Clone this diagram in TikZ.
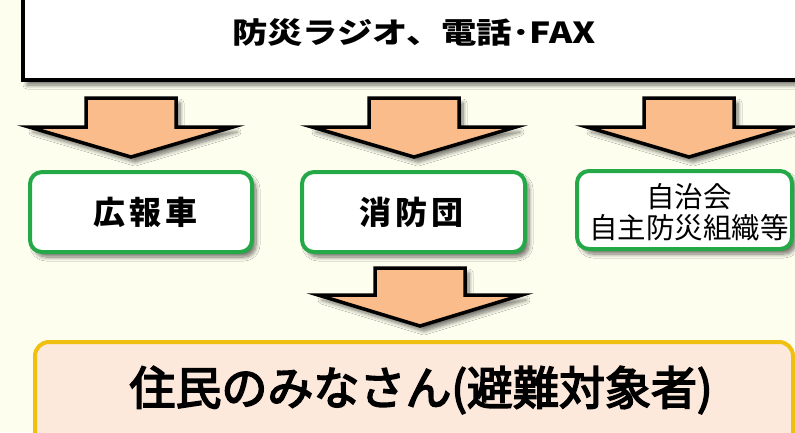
\documentclass[tikz,border=0pt]{standalone}
\usepackage{fontspec}
\newfontfamily\jp{Noto Sans CJK JP}
\newfontfamily\jpmed{Noto Sans CJK JP}[FakeBold=3.5]
\usetikzlibrary{shadows.blur}
\definecolor{bg}{HTML}{FEFEEF}
\definecolor{peach}{HTML}{F9BC8A}
\definecolor{grn}{HTML}{25A848}
\definecolor{ylw}{HTML}{F0C010}
\definecolor{pinkfill}{HTML}{FDE8DC}
\newcommand\blockarrow[4]{% center x, top y, head y, tip y
  \draw[arrowstyle] (#1-45,#2) -- (#1+45,#2) -- (#1+45,#3) -- (#1+102,#3)
    -- (#1,#4) -- (#1-102,#3) -- (#1-45,#3) -- cycle;}
\begin{document}
\begin{tikzpicture}[x=1pt,y=-1pt,
  softshadow/.style={blur shadow={shadow xshift=4pt,shadow yshift=-5pt,shadow blur steps=8,shadow blur radius=4pt,shadow opacity=55}},
  arrowstyle/.style={fill=peach,draw=black,line width=3.5pt,line join=miter,softshadow},
  topbox/.style={fill=white,draw=black,line width=4pt,softshadow},
  greenbox/.style={fill=white,draw=grn,line width=4pt,rounded corners=12pt,softshadow},
  residentbox/.style={fill=pinkfill,draw=ylw,line width=4pt,rounded corners=14pt},
  toptext/.style={font=\jp\bfseries\fontsize{29}{34}\selectfont,xscale=1.22},
  boxtext/.style={font=\jp\bfseries\fontsize{32}{38}\selectfont},
  smalltext/.style={font=\jp\fontsize{28.5}{32}\selectfont,align=center},
  bigtext/.style={font=\jpmed\fontsize{46}{52}\selectfont}
]
\useasboundingbox (0,0) rectangle (795,432);
\clip (0,0) rectangle (795,432);
\fill[bg] (0,0) rectangle (795,432);
% top box
\draw[topbox] (23,-20) rectangle (830,80);
\node[toptext] (media) at (414,33) {防災ラジオ、電話･FAX};
% arrows
\blockarrow{131}{98}{127}{157}
\blockarrow{414}{98}{127}{157}
\blockarrow{689}{98}{127}{157}
% green boxes
\draw[greenbox] (30,172) rectangle (252,252);
\draw[greenbox] (302,172) rectangle (525,252);
\draw[greenbox] (577,171) rectangle (792,249);
\node[boxtext] (car) at (145,212) {広\hspace{4pt}報\hspace{4pt}車};
\node[boxtext] (fire) at (411,212) {消\hspace{4pt}防\hspace{4pt}団};
\node[smalltext] (assoc) at (689,212) {自治会\\[-1pt]自主防災組織等};
% bottom arrow
\blockarrow{420}{268}{295}{326}
% residents box
\draw[residentbox] (35,342) rectangle (793,450);
\node[bigtext] (res) at (421,390) {住民のみなさん(避難対象者)};
\end{tikzpicture}
\end{document}
